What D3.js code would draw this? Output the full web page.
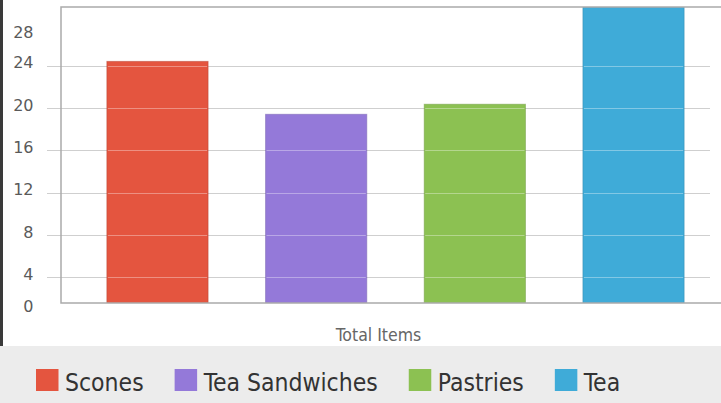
<!DOCTYPE html>
<html><head><meta charset="utf-8">
<script src="https://cdn.jsdelivr.net/npm/d3@7"></script>
<style>
html,body{margin:0;padding:0;background:#fff;overflow:hidden}
svg{display:block}
</style></head>
<body>
<script>
const categories = ["Scones", "Tea Sandwiches", "Pastries", "Tea"];
const values = [24.4, 19.4, 20.35, 30];
const colors = ["#e4553f", "#9479d9", "#8cc152", "#3fabd8"];
const tickValues = [0, 4, 8, 12, 16, 20, 24, 28];
const xAxisTitle = "Total Items";

const W = 721, H = 403;
const plot = {left: 61, top: 7, bottom: 303, right: 730};
const FONT = "'DejaVu Sans Condensed', 'DejaVu Sans', sans-serif";

const svg = d3.select("body").append("svg").attr("width", W).attr("height", H);

// scales
const y = d3.scaleLinear().domain([0, 28]).range([319.6, 23.3]);
const x = d3.scaleBand().domain(categories).range([plot.left, plot.right])
  .paddingInner(0.362).paddingOuter(0.289);

// legend band background
svg.append("rect").attr("x", 0).attr("y", 346).attr("width", W).attr("height", H - 346).attr("fill", "#ececec");
// left dark border
svg.append("rect").attr("x", 0).attr("y", 0).attr("width", 3).attr("height", 346).attr("fill", "#3a3a3a");

svg.append("defs").append("clipPath").attr("id", "plotclip")
  .append("rect").attr("x", plot.left).attr("y", plot.top)
  .attr("width", plot.right - plot.left).attr("height", plot.bottom - plot.top);

const gridTicks = tickValues.filter(v => y(v) > plot.top + 20 && y(v) < plot.bottom);

// gridlines under bars
svg.append("g").selectAll("line").data(gridTicks).join("line")
  .attr("x1", 47).attr("x2", 710)
  .attr("y1", d => Math.round(y(d)) + 0.5).attr("y2", d => Math.round(y(d)) + 0.5)
  .attr("stroke", "#cfcfcf").attr("stroke-width", 1);

// bars
const barG = svg.append("g").attr("clip-path", "url(#plotclip)");
barG.selectAll("rect").data(categories).join("rect")
  .attr("x", d => x(d)).attr("width", x.bandwidth())
  .attr("y", (d, i) => y(values[i])).attr("height", (d, i) => y(0) - y(values[i]))
  .attr("fill", (d, i) => colors[i])
  .attr("stroke", (d, i) => d3.color(colors[i]).darker(0.6))
  .attr("stroke-opacity", 0.5).attr("stroke-width", 1);

// gridlines over bars (light)
categories.forEach((c, i) => {
  barG.append("g").selectAll("line").data(gridTicks.filter(v => v < values[i])).join("line")
    .attr("x1", x(c) + 1).attr("x2", x(c) + x.bandwidth() - 1)
    .attr("y1", d => Math.round(y(d)) + 0.5).attr("y2", d => Math.round(y(d)) + 0.5)
    .attr("stroke", "#ffffff").attr("stroke-opacity", 0.35).attr("stroke-width", 1.2);
});

// plot frame (top, left, bottom)
const frame = svg.append("g").attr("stroke", "#ababab").attr("stroke-width", 1.5).attr("fill", "none");
frame.append("path").attr("d", `M${W},${plot.top}H${plot.left}V${plot.bottom}H${W}`);

// y tick labels (end labels kept inside)
svg.append("g").selectAll("text").data(tickValues).join("text")
  .attr("x", 33.5)
  .attr("y", d => Math.max(plot.top + 25, Math.min(plot.bottom + 3, y(d) - 3)))
  .attr("dy", "0.36em")
  .attr("text-anchor", "end")
  .attr("font-family", "'DejaVu Sans', sans-serif").attr("font-size", 16).attr("fill", "#5a5a5a")
  .text(d => d);

// x axis title
svg.append("text").attr("x", (plot.left + 696) / 2).attr("y", 341)
  .attr("text-anchor", "middle").attr("font-family", FONT).attr("font-size", 17.5)
  .attr("fill", "#666").text(xAxisTitle);

// legend
const lg = svg.append("g");
let lx = 36;
categories.forEach((c, i) => {
  lg.append("rect").attr("x", lx).attr("y", 369).attr("width", 22.5).attr("height", 22)
    .attr("fill", colors[i]);
  const t = lg.append("text").attr("x", lx + 29).attr("y", 391)
    .attr("font-family", FONT).attr("font-size", 24.5).attr("fill", "#333").text(c);
  lx += 29 + t.node().getComputedTextLength() + 31;
});
</script>
</body></html>
